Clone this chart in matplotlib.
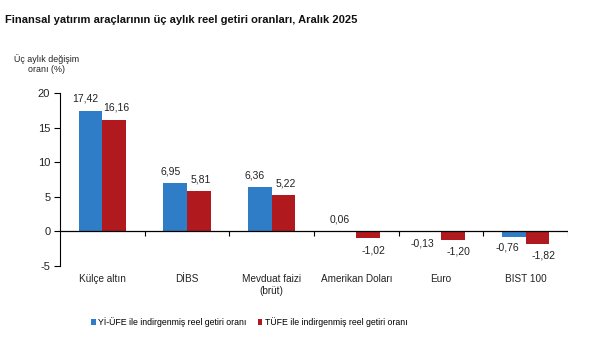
import matplotlib
matplotlib.use("Agg")
import matplotlib.pyplot as plt
import numpy as np

categories = ["Külçe altın", "DİBS", "Mevduat faizi\n(brüt)", "Amerikan Doları", "Euro", "BIST 100"]
yi_ufe = [17.42, 6.95, 6.36, 0.06, -0.13, -0.76]
tufe = [16.16, 5.81, 5.22, -1.02, -1.20, -1.82]
series_names = ["Yİ-ÜFE ile indirgenmiş reel getiri oranı", "TÜFE ile indirgenmiş reel getiri oranı"]
yticks = [-5, 0, 5, 10, 15, 20]

plt.rcParams['font.family'] = ['Liberation Sans', 'DejaVu Sans']

BLUE = "#2F7DC6"
RED = "#B0191E"
TXT = "#222222"

fig = plt.figure(figsize=(6.1, 3.52), dpi=100)
ax = fig.add_axes([60/610, 1-266/352, 508/610, 173/352])

x = np.arange(len(categories))
w = 0.28
b1 = ax.bar(x - w/2, yi_ufe, w, color=BLUE, label=series_names[0])
b2 = ax.bar(x + w/2, tufe, w, color=RED, label=series_names[1])

def fmt(v):
    return f"{v:.2f}".replace(".", ",")

LBL = 7.5
for xi, v in zip(x - w/2, yi_ufe):
    if v >= 0:
        ax.annotate(fmt(v), (xi, v), xytext=(-3.5, 5), textcoords="offset points",
                    ha="center", va="bottom", fontsize=LBL, color=TXT)
    else:
        ax.annotate(fmt(v), (xi, v), xytext=(-4.5, -4.5), textcoords="offset points",
                    ha="center", va="top", fontsize=LBL, color=TXT)
for xi, v in zip(x + w/2, tufe):
    if v >= 0:
        ax.annotate(fmt(v), (xi, v), xytext=(1.5, 5), textcoords="offset points",
                    ha="center", va="bottom", fontsize=LBL, color=TXT)
    else:
        ax.annotate(fmt(v), (xi, v), xytext=(4, -5), textcoords="offset points",
                    ha="center", va="top", fontsize=LBL, color=TXT)

ax.set_xlim(-0.5, len(categories) - 0.5)
ax.set_ylim(-5, 20)
ax.set_yticks(yticks)
ax.set_yticklabels([str(t) for t in yticks], fontsize=8, color=TXT)
ax.set_xticks(x)
ax.set_xticklabels(categories, fontsize=7.2, color=TXT)
ax.tick_params(axis="x", length=0, pad=6)
ax.tick_params(axis="y", length=4, width=0.8, pad=3)
for s in ["top", "right", "bottom"]:
    ax.spines[s].set_visible(False)
ax.spines["left"].set_linewidth(0.8)
ax.axhline(0, color="black", linewidth=0.9, zorder=3)
bounds = np.arange(len(categories) + 1) - 0.5
ax.vlines(bounds[1:], -0.6, 0, color="black", linewidth=0.8, zorder=3)

fig.text(5/610, 1-20/352, "Finansal yatırım araçlarının üç aylık reel getiri oranları, Aralık 2025",
         fontsize=8, fontweight="bold", va="center", ha="left", color="#111111")
fig.text(47/610, 1-64/352, "Üç aylık değişim\noranı (%)", fontsize=6.4, ha="center", va="center",
         color=TXT, linespacing=1.15)

fig.legend(handles=[b1, b2], loc="center", bbox_to_anchor=(249/610, 1-322/352), ncol=2,
           frameon=False, fontsize=6.3, handlelength=0.55, handleheight=0.55, handletextpad=0.25,
           columnspacing=1.3)

fig.savefig("out.png", dpi=100)
